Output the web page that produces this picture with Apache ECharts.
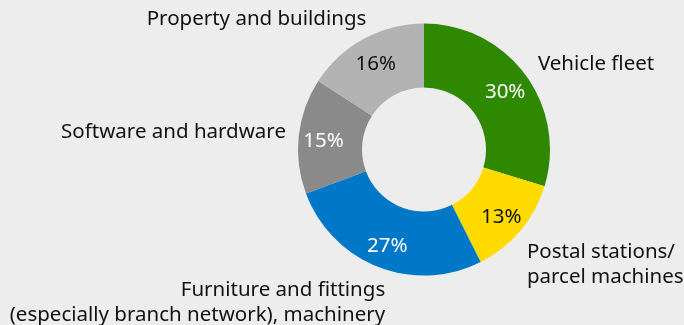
<!DOCTYPE html>
<html>
<head>
<meta charset="utf-8">
<script src="https://cdn.jsdelivr.net/npm/echarts@6/dist/echarts.min.js"></script>
<style>
  html, body { margin: 0; padding: 0; background: #ededed; }
  #chart { width: 684px; height: 325px; }
</style>
</head>
<body>
<div id="chart"></div>
<script>
// Asset categories and their shares (%)
const categories = [
  'Vehicle fleet',
  'Postal stations/\nparcel machines',
  'Furniture and fittings\n(especially branch network), machinery',
  'Software and hardware',
  'Property and buildings'
];
const shares = [30, 13, 27, 15, 16];

// Slice styling
const sliceColors = ['#2e8800', '#ffdb00', '#0078c8', '#8a8a8a', '#b3b3b3'];
const pctColors = ['#ffffff', '#111111', '#ffffff', '#ffffff', '#111111'];
// Radial / horizontal offsets of the category labels (no leader lines drawn)
const namePlacement = [
  { length: 17, length2: -1, lineHeight: 24 },
  { length: 53, length2: -34, lineHeight: 25 },
  { length: 38, length2: -21, lineHeight: 25 },
  { length: 35, length2: -22, lineHeight: 24 },
  { length: 22, length2: -13, lineHeight: 24 }
];

const FONT = 'Noto Sans';
const center = [424, 149.5];
const radius = [62, 126];
// ring used only to seat the percentage labels a little outside mid-ring
const pctLabelRing = [70, 126];

const common = {
  type: 'pie',
  center,
  startAngle: 90,
  clockwise: true,
  silent: true,
  avoidLabelOverlap: false,
  emphasis: { disabled: true }
};

const sliceData = categories.map((name, i) => ({
  name, value: shares[i],
  itemStyle: { color: sliceColors[i] }
}));

const pctData = categories.map((name, i) => ({
  name, value: shares[i],
  label: { color: pctColors[i] }
}));

const nameData = categories.map((name, i) => ({
  name, value: shares[i],
  label: { lineHeight: namePlacement[i].lineHeight },
  labelLine: { show: false, length: namePlacement[i].length, length2: namePlacement[i].length2 }
}));

const chart = echarts.init(document.getElementById('chart'), null, { renderer: 'canvas' });
chart.setOption({
  backgroundColor: '#ededed',
  animation: false,
  series: [
    Object.assign({}, common, {
      radius,
      itemStyle: { borderWidth: 0 },
      label: { show: false },
      labelLine: { show: false },
      data: sliceData
    }),
    Object.assign({}, common, {
      radius: pctLabelRing,
      itemStyle: { color: 'rgba(0,0,0,0)', borderWidth: 0 },
      label: {
        show: true,
        position: 'inside',
        formatter: p => p.value + '%',
        fontFamily: FONT,
        fontSize: 20.5
      },
      labelLayout: { dy: 3 },
      labelLine: { show: false },
      data: pctData
    }),
    Object.assign({}, common, {
      radius,
      itemStyle: { color: 'rgba(0,0,0,0)', borderWidth: 0 },
      label: {
        show: true,
        position: 'outside',
        alignTo: 'none',
        distanceToLabelLine: 0,
        overflow: 'none',
        formatter: p => p.name,
        color: '#111111',
        fontFamily: FONT,
        fontSize: 20.5
      },
      data: nameData
    })
  ]
});
</script>
</body>
</html>
